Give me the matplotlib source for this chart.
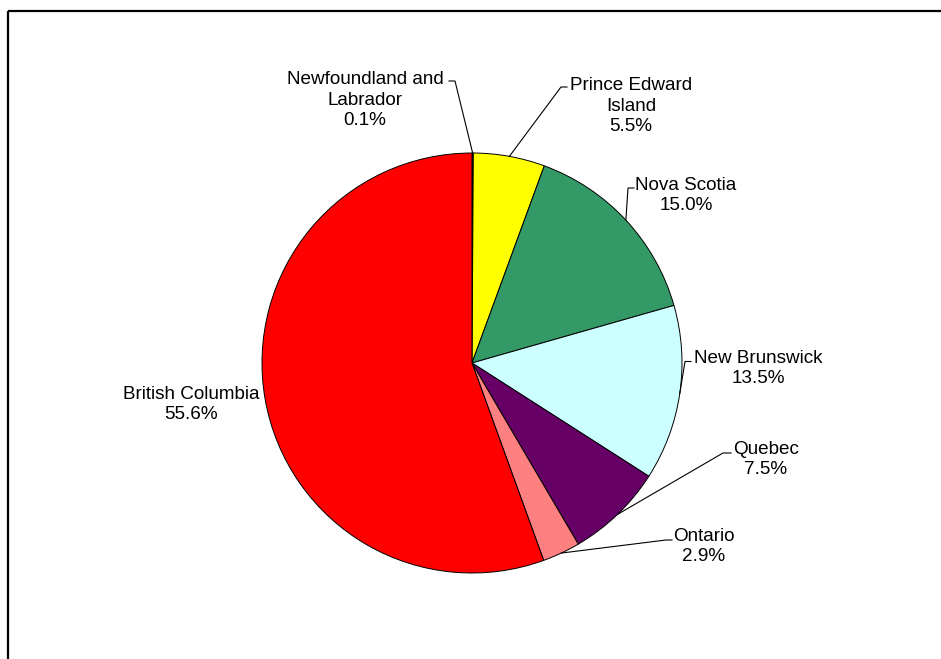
import matplotlib
matplotlib.use("Agg")
import matplotlib.pyplot as plt
from matplotlib.patches import Rectangle
import numpy as np

# Share of total by province (percent), clockwise from 12 o'clock
provinces = ["Newfoundland and\nLabrador", "Prince Edward\nIsland", "Nova Scotia",
             "New Brunswick", "Quebec", "Ontario", "British Columbia"]
shares = [0.1, 5.5, 15.0, 13.5, 7.5, 2.9, 55.6]
colors = ["#1F1F7A", "#FFFF00", "#339966", "#CCFFFF", "#660066", "#FF8080", "#FF0000"]

# Label placement: text anchor (last-line baseline) and leader elbow, in pixels
label_xy = [(365, 125), (631, 131), (686, 210), (758, 383), (766, 474), (704, 561), (191, 419)]
elbow_xy = [(455, 81), (561, 87), (628, 188), (685, 361.5), (723, 453), (666, 540), None]
label_end = [(449, 81), (567, 87), (634, 188), (691, 361.5), (731, 453), (672, 540), None]

W, H = 941, 659
CX, CY, R = 472, 363, 210

plt.rcParams["font.family"] = ["Liberation Sans", "DejaVu Sans"]

fig = plt.figure(figsize=(W / 100, H / 100), dpi=100)
ax = fig.add_axes([0, 0, 1, 1])

# Outer chart frame (runs past the right and bottom edges)
ax.add_patch(Rectangle((8, 11), 1200, 1200, fill=False, edgecolor="black",
                       linewidth=1.6, clip_on=True))

wedges, _ = ax.pie(shares, colors=colors, startangle=-90, counterclock=True,
                   center=(CX, CY), radius=R, frame=True,
                   wedgeprops=dict(edgecolor="black", linewidth=0.7))
ax.set_xlim(0, W)
ax.set_ylim(H, 0)
ax.set_aspect("equal")
ax.axis("off")

for w, name, val, txy, exy, lend in zip(wedges, provinces, shares, label_xy, elbow_xy, label_end):
    mid = np.deg2rad((w.theta1 + w.theta2) / 2)
    px, py = CX + R * np.cos(mid), CY + R * np.sin(mid)
    ax.text(txy[0], txy[1], f"{name}\n{val:.1f}%", ha="center", va="baseline",
            fontsize=13.6, linespacing=1.25, color="black")
    if exy is not None:
        ax.plot([px, exy[0], lend[0]], [py, exy[1], lend[1]], color="black",
                linewidth=0.8, solid_joinstyle="miter")

fig.savefig("out.png", dpi=100)
